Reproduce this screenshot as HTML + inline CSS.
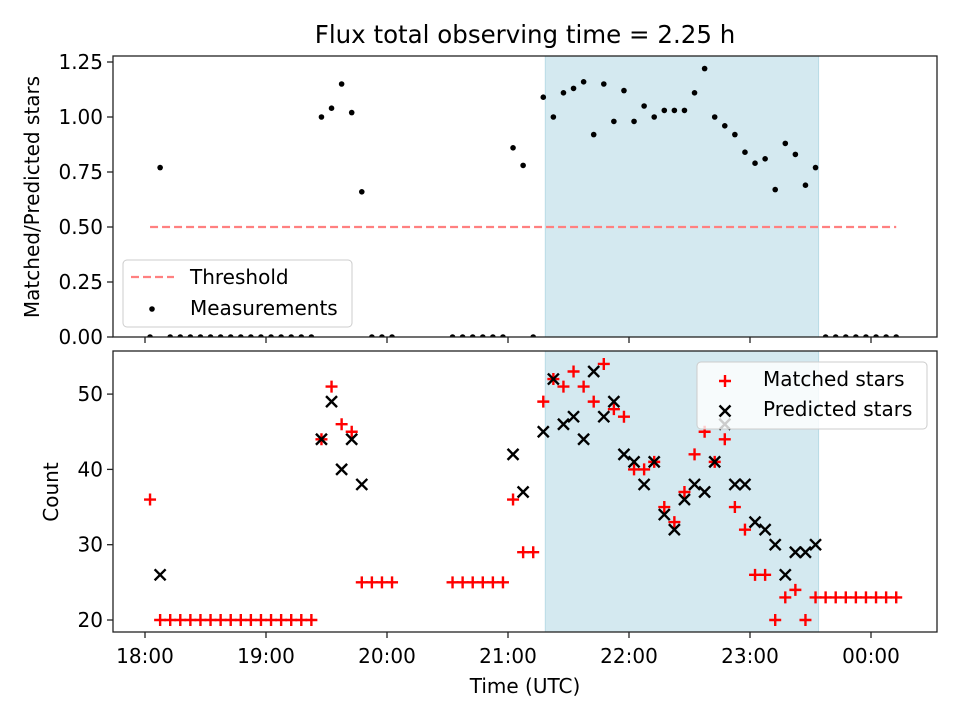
<!DOCTYPE html>
<html><head><meta charset="utf-8"><style>
html,body{margin:0;padding:0;background:#fff;overflow:hidden;width:960px;height:720px;}
svg{display:block;font-family:"DejaVu Sans","Liberation Sans",sans-serif;}
</style></head><body>
<svg id="chart" width="960" height="720" viewBox="0 0 960 720" xmlns="http://www.w3.org/2000/svg">
<text x="525" y="43" font-size="24.5" text-anchor="middle" fill="#000">Flux total observing time = 2.25 h</text>
</svg>
<script>
// minutes after 18:00 for each observation
const times = [2.5,7.5,12.5,17.5,22.5,27.5,32.5,37.5,42.5,47.5,52.5,57.5,62.5,67.5,72.5,77.5,82.5,87.5,92.5,97.5,102.5,107.5,112.5,117.5,122.5,127.5,132.5,137.5,142.5,147.5,152.5,157.5,162.5,167.5,172.5,177.5,182.5,187.5,192.5,197.5,202.5,207.5,212.5,217.5,222.5,227.5,232.5,237.5,242.5,247.5,252.5,257.5,262.5,267.5,272.5,277.5,282.5,287.5,292.5,297.5,302.5,307.5,312.5,317.5,322.5,327.5,332.5,337.5,342.5,347.5,352.5,357.5,362.5,367.5,372.5];
const ratio = [0,0.77,0,0,0,0,0,0,0,0,0,0,0,0,0,0,0,1.0,1.04,1.15,1.02,0.66,0,0,0,null,null,null,null,null,0,0,0,0,0,0,0.86,0.78,0,1.09,1.0,1.11,1.13,1.16,0.92,1.15,0.98,1.12,0.98,1.05,1.0,1.03,1.03,1.03,1.11,1.22,1.0,0.96,0.92,0.84,0.79,0.81,0.67,0.88,0.83,0.69,0.77,0,0,0,0,0,0,0,0];
const matched = [36,20,20,20,20,20,20,20,20,20,20,20,20,20,20,20,20,44,51,46,45,25,25,25,25,null,null,null,null,null,25,25,25,25,25,25,36,29,29,49,52,51,53,51,49,54,48,47,40,40,41,35,33,37,42,45,41,44,35,32,26,26,20,23,24,20,23,23,23,23,23,23,23,23,23];
const predicted = [0,26,0,0,0,0,0,0,0,0,0,0,0,0,0,0,0,44,49,40,44,38,0,0,0,null,null,null,null,null,0,0,0,0,0,0,42,37,0,45,52,46,47,44,53,47,49,42,41,38,41,34,32,36,38,37,41,46,38,38,33,32,30,26,29,29,30,0,0,0,0,0,0,0,0];
const threshold = 0.5;
const shadeStart = 198.5, shadeEnd = 334;
const xTickLabels = ["18:00","19:00","20:00","21:00","22:00","23:00","00:00"];
const xTickMinutes = [0,60,120,180,240,300,360];
const topTicks = [0,0.25,0.5,0.75,1.0,1.25];
const topTickLabels = ["0.00","0.25","0.50","0.75","1.00","1.25"];
const botTicks = [20,30,40,50];

const NS="http://www.w3.org/2000/svg";
const svg=document.getElementById('chart');
function mk(tag,attrs,parent){const e=document.createElementNS(NS,tag);for(const k in attrs)e.setAttribute(k,attrs[k]);(parent||svg).appendChild(e);return e;}
const L=113,R=937;
const X=m=>145+m*121/60;
const topP={t:56,b:337}, botP={t:351,b:632};
const Yt=v=>337-v*220;
const Yb=v=>620-(v-20)*7.53;
const FS=20;

const defs=mk('defs',{});
const c1=mk('clipPath',{id:'clipTop'},defs);mk('rect',{x:L,y:topP.t,width:R-L,height:topP.b-topP.t},c1);
const c2=mk('clipPath',{id:'clipBot'},defs);mk('rect',{x:L,y:botP.t,width:R-L,height:botP.b-botP.t},c2);

function panel(p,name,clip){
  const g=mk('g',{'clip-path':'url(#'+clip+')'});
  
  
  const s=mk('rect',{x:X(shadeStart),y:p.t,width:X(shadeEnd)-X(shadeStart),height:p.b-p.t,fill:'#d4e9f0',stroke:'#b9dbe6','stroke-width':1},g);
  
  
  return g;
}
const gt=panel(topP,'top','clipTop');
const gb=panel(botP,'bottom','clipBot');

const th=mk('line',{x1:X(times[0]),x2:X(times[times.length-1]),y1:Yt(threshold),y2:Yt(threshold),stroke:'#ff8080','stroke-width':2.2,'stroke-dasharray':'8,4'},gt);


times.forEach((t,i)=>{if(ratio[i]==null)return;
  const c=mk('circle',{cx:X(t),cy:Yt(ratio[i]),r:2.8,fill:'#000'},gt);
  
  
});
times.forEach((t,i)=>{
  if(matched[i]!=null){const x=X(t),y=Yb(matched[i]);
    const p=mk('path',{d:`M${x-6},${y}H${x+6}M${x},${y-6}V${y+6}`,stroke:'#ff0000','stroke-width':2.4,fill:'none'},gb);
    
    }
});
times.forEach((t,i)=>{
  if(predicted[i]!=null){const x=X(t),y=Yb(predicted[i]);
    const p=mk('path',{d:`M${x-5.5},${y-5.5}L${x+5.5},${y+5.5}M${x-5.5},${y+5.5}L${x+5.5},${y-5.5}`,stroke:'#000','stroke-width':2.4,fill:'none'},gb);
    
    }
});

function frame(p,name){
  const r=mk('rect',{x:L,y:p.t,width:R-L,height:p.b-p.t,fill:'none',stroke:'#222','stroke-width':1.3});
  
  
  xTickMinutes.forEach(m=>{
    const t=mk('line',{x1:X(m),x2:X(m),y1:p.b,y2:p.b+6,stroke:'#222','stroke-width':1.3});
    
    
  });
}
frame(topP,'top');frame(botP,'bottom');
xTickMinutes.forEach((m,i)=>{
  const t=mk('text',{x:X(m),y:botP.b+31,'font-size':FS,'text-anchor':'middle'});t.textContent=xTickLabels[i];
  
  
});
topTicks.forEach((v,i)=>{
  mk('line',{x1:L-6,x2:L,y1:Yt(v),y2:Yt(v),stroke:'#222','stroke-width':1.3});
  const t=mk('text',{x:L-10,y:Yt(v)+7,'font-size':FS,'text-anchor':'end'});t.textContent=topTickLabels[i];
  
  
});
botTicks.forEach(v=>{
  mk('line',{x1:L-6,x2:L,y1:Yb(v),y2:Yb(v),stroke:'#222','stroke-width':1.3});
  const t=mk('text',{x:L-10,y:Yb(v)+7,'font-size':FS,'text-anchor':'end'});t.textContent=String(v);
  
  
});
let t=mk('text',{x:525,y:693,'font-size':FS,'text-anchor':'middle'});t.textContent='Time (UTC)';


t=mk('text',{x:0,y:0,'font-size':FS,'text-anchor':'middle',transform:'translate(39,197) rotate(-90)'});t.textContent='Matched/Predicted stars';


t=mk('text',{x:0,y:0,'font-size':FS,'text-anchor':'middle',transform:'translate(58,492) rotate(-90)'});t.textContent='Count';



let lg=mk('g',{});


mk('rect',{x:123,y:260,width:229,height:67,rx:4,fill:'#fff','fill-opacity':0.8,stroke:'#ccc'},lg);
mk('line',{x1:131,x2:174,y1:277,y2:277,stroke:'#ff8080','stroke-width':2.2,'stroke-dasharray':'8,4'},lg);
mk('circle',{cx:152,cy:309,r:2.8,fill:'#000'},lg);
t=mk('text',{x:190,y:284,'font-size':FS},lg);t.textContent='Threshold';
t=mk('text',{x:190,y:315,'font-size':FS},lg);t.textContent='Measurements';

lg=mk('g',{});


mk('rect',{x:697,y:362,width:230,height:67,rx:4,fill:'#fff','fill-opacity':0.8,stroke:'#ccc'},lg);
mk('path',{d:'M719,381H731M725,375V387',stroke:'#ff0000','stroke-width':2.4},lg);
mk('path',{d:'M719.5,405.5L730.5,416.5M719.5,416.5L730.5,405.5',stroke:'#000','stroke-width':2.4},lg);
t=mk('text',{x:763,y:386,'font-size':FS},lg);t.textContent='Matched stars';
t=mk('text',{x:763,y:416,'font-size':FS},lg);t.textContent='Predicted stars';
</script>
</body></html>
